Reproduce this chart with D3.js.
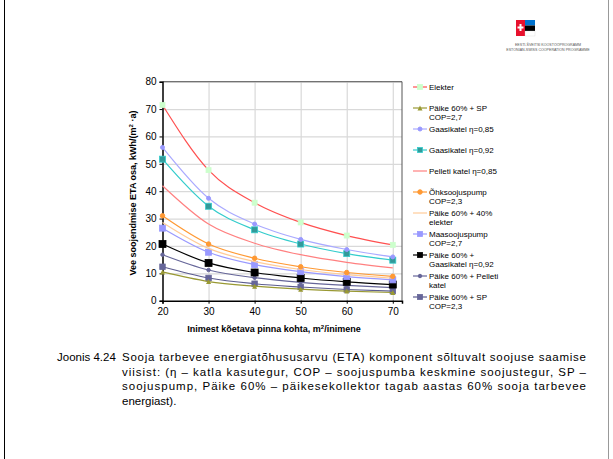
<!DOCTYPE html>
<html>
<head>
<meta charset="utf-8">
<script src="https://cdn.jsdelivr.net/npm/d3@7"></script>
<style>
  body { margin: 0; background: #fff; }
  svg { display: block; font-family: "Liberation Sans", Arial, sans-serif; }
</style>
</head>
<body>
<svg id="chart" width="613" height="459"></svg>
<script>
// andmed
const pinnad = [20, 30, 40, 50, 60, 70];
const yTicks = [0, 10, 20, 30, 40, 50, 60, 70, 80];
const xTicks = [20, 30, 40, 50, 60, 70];

const elekter = [71.5, 47.7, 35.8, 28.6, 23.8, 20.4];
const paikeSp27 = [10.5, 7.0, 5.3, 4.2, 3.5, 3.0];
const gaas085 = [56.0, 37.4, 28.0, 22.4, 18.7, 16.0];
const gaas092 = [51.7, 34.5, 25.9, 20.7, 17.2, 14.8];
const pelleti = [42.0, 28.0, 21.0, 16.8, 14.0, 12.0];
const ohkSp = [31.0, 20.7, 15.5, 12.4, 10.3, 8.9];
const paikeElekter = [28.6, 19.1, 14.3, 11.4, 9.5, 8.2];
const maaSp = [26.5, 17.7, 13.2, 10.6, 8.8, 7.6];
const paikeGaas = [20.7, 13.8, 10.3, 8.3, 6.9, 5.9];
const paikePelleti = [16.8, 11.2, 8.4, 6.7, 5.6, 4.8];
const paikeSp23 = [12.4, 8.3, 6.2, 5.0, 4.1, 3.5];

const seeriad = [
  { nimi: ["Elekter"], v: elekter, joon: "#ff5050", tahis: "square", taide: "#ccffcc", serv: "#ccffcc", r: 5 },
  { nimi: ["Päike 60% + SP", "COP=2,7"], v: paikeSp27, joon: "#999933", tahis: "triangle", taide: "#999933", serv: "#999933", r: 5 },
  { nimi: ["Gaasikatel η=0,85"], v: gaas085, joon: "#aaaaff", tahis: "circle", taide: "#9999ff", serv: "#9999ff", r: 4 },
  { nimi: ["Gaasikatel η=0,92"], v: gaas092, joon: "#33cccc", tahis: "square", taide: "#339999", serv: "#33cccc", r: 6 },
  { nimi: ["Pelleti katel η=0,85"], v: pelleti, joon: "#ff8080", tahis: "none", r: 0 },
  { nimi: ["Õhksoojuspump", "COP=2,3"], v: ohkSp, joon: "#ff9933", tahis: "circle", taide: "#ff9933", serv: "#ff9933", r: 4.5 },
  { nimi: ["Päike 60% + 40%", "elekter"], v: paikeElekter, joon: "#ffcc99", tahis: "none", r: 0 },
  { nimi: ["Maasoojuspump", "COP=2,7"], v: maaSp, joon: "#9999ff", tahis: "square", taide: "#9999ff", serv: "#9999ff", r: 6 },
  { nimi: ["Päike 60% +", "Gaasikatel η=0,92"], v: paikeGaas, joon: "#000000", tahis: "square", taide: "#000000", serv: "#000000", r: 7 },
  { nimi: ["Päike 60% + Pelleti", "katel"], v: paikePelleti, joon: "#666699", tahis: "circle", taide: "#666699", serv: "#666699", r: 3.5 },
  { nimi: ["Päike 60% + SP", "COP=2,3"], v: paikeSp23, joon: "#5c5c8f", tahis: "square", taide: "#666699", serv: "#666699", r: 5.5 }
];

const svg = d3.select("#chart");

// lehe piirjooned
svg.append("line").attr("x1", 4.5).attr("x2", 4.5).attr("y1", 0).attr("y2", 459)
  .attr("stroke", "#000").attr("stroke-width", 1);
svg.append("line").attr("x1", 608.5).attr("x2", 608.5).attr("y1", 0).attr("y2", 459)
  .attr("stroke", "#999").attr("stroke-width", 1);

// logo
const logo = svg.append("g").attr("transform", "translate(516,20)");
logo.append("rect").attr("x", 0).attr("y", 0).attr("width", 9).attr("height", 16).attr("fill", "#e8112d");
logo.append("rect").attr("x", 3.5).attr("y", 4).attr("width", 2).attr("height", 7).attr("fill", "#fff");
logo.append("rect").attr("x", 1.5).attr("y", 6.5).attr("width", 6).attr("height", 2).attr("fill", "#fff");
logo.append("rect").attr("x", 9).attr("y", 0).attr("width", 10).attr("height", 5.5).attr("fill", "#0072ce");
logo.append("rect").attr("x", 9).attr("y", 5.5).attr("width", 10).attr("height", 5.5).attr("fill", "#000");
logo.append("rect").attr("x", 9).attr("y", 11).attr("width", 10).attr("height", 5).attr("fill", "#fff").attr("stroke", "#ccc").attr("stroke-width", 0.3);
svg.append("text").attr("x", 548).attr("y", 46).attr("text-anchor", "middle")
  .attr("font-size", 3.6).attr("fill", "#555").text("EESTI-ŠVEITSI KOOSTÖÖPROGRAMM");
svg.append("text").attr("x", 548).attr("y", 51).attr("text-anchor", "middle")
  .attr("font-size", 3.6).attr("fill", "#555").text("ESTONIAN-SWISS COOPERATION PROGRAMME");

// skaalad
const vasak = 162.5, parem = 402, ylal = 81.7, all = 300.7;
const x = d3.scaleLinear().domain([20, 72]).range([vasak, parem]);
const y = d3.scaleLinear().domain([0, 80]).range([all, ylal]);

const graafik = svg.append("g");

// ruudustik
graafik.append("g")
  .attr("transform", `translate(${vasak},0)`)
  .call(d3.axisLeft(y).tickValues(yTicks.slice(1)).tickSize(-(parem - vasak)).tickFormat(""))
  .call(g => g.select(".domain").remove())
  .call(g => g.selectAll("line").attr("stroke", "#d9d9d9").attr("stroke-width", 1.2));
graafik.append("g")
  .attr("transform", `translate(0,${ylal})`)
  .call(d3.axisBottom(x).tickValues(xTicks.slice(1)).tickSize(all - ylal).tickFormat(""))
  .call(g => g.select(".domain").remove())
  .call(g => g.selectAll("line").attr("stroke", "#d9d9d9").attr("stroke-width", 1.2));

// raam
graafik.append("line").attr("x1", vasak).attr("x2", parem).attr("y1", ylal).attr("y2", ylal)
  .attr("stroke", "#555").attr("stroke-width", 1);
graafik.append("line").attr("x1", parem).attr("x2", parem).attr("y1", ylal).attr("y2", all)
  .attr("stroke", "#555").attr("stroke-width", 1);

// teljed
graafik.append("g")
  .attr("transform", `translate(${vasak},0)`)
  .call(d3.axisLeft(y).tickValues(yTicks).tickSize(3).tickPadding(3))
  .call(g => g.select(".domain").attr("stroke", "#000").attr("stroke-width", 1.5))
  .call(g => g.selectAll("text").attr("font-size", 10).attr("fill", "#000").attr("font-family", "Liberation Sans, Arial, sans-serif"));
graafik.append("g")
  .attr("transform", `translate(0,${all})`)
  .call(d3.axisBottom(x).tickValues(xTicks).tickSize(3).tickPadding(4))
  .call(g => g.select(".domain").attr("stroke", "#000").attr("stroke-width", 1.5))
  .call(g => g.selectAll("text").attr("font-size", 10).attr("fill", "#000").attr("font-family", "Liberation Sans, Arial, sans-serif"));

// telgede pealkirjad
const xPealkiri = svg.append("text")
  .attr("x", 274).attr("y", 332).attr("text-anchor", "middle")
  .attr("font-size", 9).attr("font-weight", "bold");
xPealkiri.append("tspan").text("Inimest kõetava pinna kohta, m");
xPealkiri.append("tspan").attr("font-size", 6).attr("dy", -3).text("2");
xPealkiri.append("tspan").attr("dy", 3).text("/inimene");

const yPealkiri = svg.append("text")
  .attr("transform", "translate(136,193) rotate(-90)")
  .attr("text-anchor", "middle")
  .attr("font-size", 9).attr("font-weight", "bold");
yPealkiri.append("tspan").text("Vee soojendmise ETA osa, kWh/(m");
yPealkiri.append("tspan").attr("font-size", 6).attr("dy", -3).text("2");
yPealkiri.append("tspan").attr("dy", 3).text(" ·a)");

// tähised
function tahis(g, s, cx, cy) {
  if (s.tahis === "square") {
    g.append("rect").attr("x", cx - s.r / 2).attr("y", cy - s.r / 2)
      .attr("width", s.r).attr("height", s.r)
      .attr("fill", s.taide).attr("stroke", s.serv).attr("stroke-width", 0.8);
  } else if (s.tahis === "circle") {
    g.append("circle").attr("cx", cx).attr("cy", cy).attr("r", s.r / 2)
      .attr("fill", s.taide).attr("stroke", s.serv);
  } else if (s.tahis === "triangle") {
    const h = s.r;
    g.append("path")
      .attr("d", `M${cx},${cy - h / 2}L${cx + h / 2},${cy + h / 2}L${cx - h / 2},${cy + h / 2}Z`)
      .attr("fill", s.taide);
  }
}

const joon = d3.line()
  .x((d, i) => x(pinnad[i]))
  .y(d => y(d))
  .curve(d3.curveMonotoneX);

// joonistame alates tagumistest
const joonteKiht = graafik.append("g");
seeriad.slice().reverse().forEach(s => {
  const g = joonteKiht.append("g");
  g.append("path").attr("d", joon(s.v)).attr("fill", "none")
    .attr("stroke", s.joon).attr("stroke-width", 1.2);
  s.v.forEach((v, i) => tahis(g, s, x(pinnad[i]), y(v)));
});

// legend
const legend = svg.append("g");
seeriad.forEach((s, i) => {
  const ly = 87 + i * 21;
  const g = legend.append("g");
  g.append("line").attr("x1", 413).attr("x2", 427).attr("y1", ly).attr("y2", ly)
    .attr("stroke", s.joon).attr("stroke-width", 1.2);
  const ls = Object.assign({}, s, { r: Math.min(s.r, 5) });
  tahis(g, ls, 420, ly);
  s.nimi.forEach((t, j) => {
    g.append("text").attr("x", 429).attr("y", ly + 3 + j * 8.5)
      .attr("font-size", 8).attr("fill", "#000").text(t);
  });
});

// allkiri
const allkiri = svg.append("g").attr("font-size", 11.5).attr("fill", "#000");
allkiri.append("text").attr("x", 57).attr("y", 361).text("Joonis 4.24");
const read = [
  "Sooja tarbevee energiatõhususarvu (ETA) komponent sõltuvalt soojuse saamise",
  "viisist: (η – katla kasutegur, COP – soojuspumba keskmine soojustegur, SP –",
  "soojuspump, Päike 60% – päikesekollektor tagab aastas 60% sooja tarbevee",
  "energiast)."
];
read.forEach((t, i) => {
  const el = allkiri.append("text").attr("x", 122).attr("y", 361 + i * 14.5).text(t);
  if (i < read.length - 1) {
    el.attr("textLength", 464).attr("lengthAdjust", "spacing");
  }
});
</script>
</body>
</html>
